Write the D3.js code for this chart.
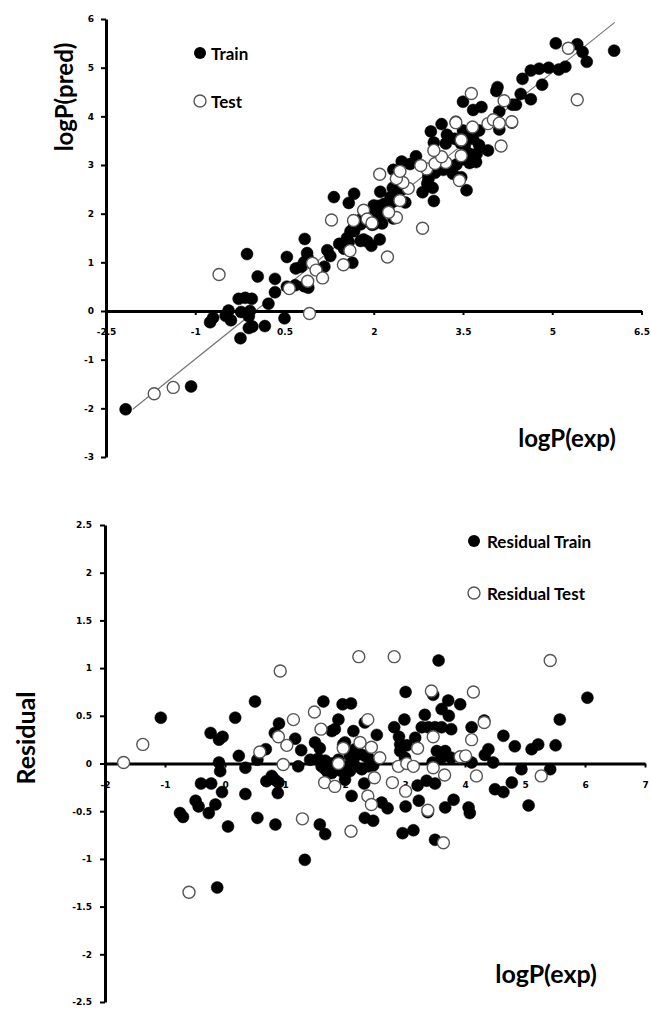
<!DOCTYPE html>
<html>
<head>
<meta charset="utf-8">
<script src="https://cdn.jsdelivr.net/npm/d3@7"></script>
<style>
  html, body { margin: 0; padding: 0; background: #fff; }
  svg { display: block; }
  text { font-family: Lato, "Open Sans", sans-serif; font-weight: 700; fill: #000; }
</style>
</head>
<body>
<svg id="chart" width="651" height="1011"></svg>
<script>
// ---- Data ----
// Experimental logP and residual (exp - pred) for the training set
const trainExp = [-2.17,-1.07,-0.75,-0.70,-0.49,-0.44,-0.40,-0.27,-0.24,-0.23,
  -0.16,-0.13,-0.10,-0.04,-0.10,-0.08,-0.05,0.05,0.17,0.23,
  0.34,0.34,0.50,0.54,0.54,0.68,0.69,0.78,0.83,0.89,
  0.88,0.84,0.83,0.90,1.17,1.22,1.27,1.33,1.42,1.50,
  1.58,1.58,1.64,1.67,1.83,1.89,1.96,2.10,1.78,1.97,
  2.00,1.55,1.67,1.78,1.89,1.67,1.78,1.94,2.03,2.00,
  2.08,2.11,2.17,2.28,2.39,2.47,2.08,2.17,2.33,2.14,
  2.33,2.53,2.32,2.11,2.61,2.71,2.33,2.47,2.82,2.90,
  2.92,2.92,3.03,3.17,2.99,3.01,3.00,3.01,3.23,3.21,
  3.36,3.50,3.38,2.96,3.14,3.50,3.47,3.56,3.72,3.92,
  3.61,3.33,3.73,3.28,3.39,3.50,3.61,3.77,3.53,3.67,
  3.61,3.77,3.46,3.67,3.81,4.06,4.08,4.11,4.11,4.32,
  4.39,4.33,4.47,4.50,4.64,4.64,4.78,4.83,4.94,5.06,
  5.11,5.22,5.42,5.51,5.58,6.04,2.25,2.14,2.39,1.61,1.72];
const trainRes = [-0.15,0.48,-0.52,-0.56,-0.39,-0.45,-0.21,-0.52,0.32,-0.21,
  -0.43,-1.30,0.25,0.28,0.01,-0.08,-0.30,-0.66,0.48,0.08,
  -0.045,-0.32,0.65,0.04,-0.57,0.15,-0.185,-0.13,-0.17,-0.20,
  -0.31,-0.64,0.32,0.42,0.26,-0.03,0.14,-1.01,0.04,0.22,
  0.16,-0.64,0.65,-0.74,0.36,0.46,0.62,0.63,0.34,0.20,
  0.22,0.05,0.03,0.00,0.04,-0.06,-0.10,-0.08,-0.03,-0.17,
  -0.08,-0.03,-0.03,-0.06,-0.03,-0.02,0.08,0.15,0.08,0.34,
  0.43,0.30,-0.21,-0.34,-0.41,-0.47,-0.57,-0.60,0.38,0.28,
  0.20,0.13,0.19,0.27,0.46,0.75,0.06,-0.45,-0.39,-0.23,
  -0.18,-0.21,-0.51,-0.73,-0.70,-0.80,0.72,1.08,0.66,0.62,
  0.57,0.51,0.50,0.38,0.38,0.38,0.38,0.36,0.13,0.13,
  0.06,0.06,0.01,-0.46,-0.38,-0.46,-0.52,0.38,0.01,0.45,
  0.15,0.09,0.01,-0.27,-0.30,0.29,-0.20,0.18,-0.06,-0.44,
  0.15,0.20,-0.06,0.19,0.46,0.69,0.10,0.04,0.06,-0.03,-0.10];
// Test set
const testExp = [-1.69,-1.37,-0.60,0.58,0.92,0.89,0.97,1.03,1.14,1.29,
  1.49,1.60,1.66,1.83,1.89,1.97,2.10,2.23,2.82,3.44,
  4.14,2.38,3.47,3.21,2.25,2.44,2.58,2.89,3.03,3.14,
  3.92,4.01,3.47,2.49,2.79,3.01,3.66,2.38,2.44,3.38,
  3.64,5.42,4.32,4.11,4.19,5.27];
const testRes = [0.01,0.20,-1.35,0.12,0.97,0.28,-0.01,0.19,0.46,-0.58,
  0.54,0.36,-0.20,-0.24,0.00,0.16,-0.71,1.12,1.12,0.76,
  0.75,0.46,0.28,0.16,0.22,0.17,0.06,-0.03,0.00,-0.03,
  0.07,0.08,-0.045,-0.15,-0.20,-0.29,-0.12,-0.34,-0.43,-0.49,
  -0.83,1.08,0.43,0.25,-0.13,-0.13];
// Fitted line end points (exp, pred)
const fitLineExp = [-2.05, 6.05];
const fitLinePred = [-2.02, 5.93];
// Tick values
const topXTicks = [-2.5, -1, 0.5, 2, 3.5, 5, 6.5];
const topYTicks = [-3, -2, -1, 0, 1, 2, 3, 4, 5, 6];
const botXTicks = [-2, -1, 0, 1, 2, 3, 4, 5, 6, 7];
const botYTicks = [-2.5, -2, -1.5, -1, -0.5, 0, 0.5, 1, 1.5, 2, 2.5];

// predicted = experimental - residual
const train = trainExp.map((e, i) => ({exp: e, res: trainRes[i], pred: +(e - trainRes[i]).toFixed(3)}));
const test = testExp.map((e, i) => ({exp: e, res: testRes[i], pred: +(e - testRes[i]).toFixed(3)}));

const svg = d3.select("#chart");
svg.append("rect").attr("width", 651).attr("height", 1011).attr("fill", "#fff");

const R = 6;
function styleAxis(g) {
  g.select(".domain").attr("stroke", "#000").attr("stroke-width", 3);
  g.selectAll(".tick line").attr("stroke", "#000").attr("stroke-width", 2);
  g.selectAll(".tick text")
    .attr("font-family", "'DejaVu Sans', Verdana, sans-serif")
    .style("font-family", "'DejaVu Sans', Verdana, sans-serif")
    .style("font-size", "9px").style("font-weight", 700).attr("fill", "#000");
}
function drawPoints(g, data, xs, ys, yKey, filled, clipMin) {
  g.selectAll(null).data(data.filter(d => d.exp >= clipMin)).enter().append("circle")
    .attr("cx", d => xs(d.exp)).attr("cy", d => ys(d[yKey])).attr("r", R)
    .attr("fill", filled ? "#000" : "#fff")
    .attr("stroke", filled ? "#000" : "#555")
    .attr("stroke-width", filled ? 0.5 : 1.4);
}

// ================= TOP CHART =================
{
  const x = d3.scaleLinear().domain([-2.5, 6.5]).range([106, 641.5]);
  const y = d3.scaleLinear().domain([-3, 6]).range([457, 19]);
  const g = svg.append("g");

  // fitted line
  g.append("line")
    .attr("x1", x(fitLineExp[0])).attr("y1", y(fitLinePred[0]))
    .attr("x2", x(fitLineExp[1])).attr("y2", y(fitLinePred[1]))
    .attr("stroke", "#777").attr("stroke-width", 1.2);

  const ya = g.append("g").attr("transform", `translate(${x(-2.5)},0)`)
    .call(d3.axisLeft(y).tickValues(topYTicks).tickSize(5).tickSizeOuter(0).tickPadding(7).tickFormat(d => String(d)));
  styleAxis(ya);
  const xa = g.append("g").attr("transform", `translate(0,${y(0)})`)
    .call(d3.axisBottom(x).tickValues(topXTicks).tickSize(4).tickSizeOuter(0).tickPadding(14).tickFormat(d => String(d)));
  styleAxis(xa);

  drawPoints(g, train, x, y, "pred", true, -Infinity);
  drawPoints(g, test, x, y, "pred", false, -Infinity);

  g.append("text").attr("transform", "translate(63,97) rotate(-90)")
    .attr("text-anchor", "middle").attr("dominant-baseline", "central")
    .style("font-size", "24px").text("logP(pred)");
  g.append("text").attr("x", 567).attr("y", 437)
    .attr("text-anchor", "middle").attr("dominant-baseline", "central")
    .style("font-size", "24px").text("logP(exp)");

  // legend
  g.append("circle").attr("cx", 200).attr("cy", 53).attr("r", R).attr("fill", "#000");
  g.append("circle").attr("cx", 200).attr("cy", 101).attr("r", R).attr("fill", "#fff").attr("stroke", "#555").attr("stroke-width", 1.4);
  g.append("text").attr("x", 211).attr("y", 53).attr("dominant-baseline", "central").style("font-size", "17px").text("Train");
  g.append("text").attr("x", 211).attr("y", 101).attr("dominant-baseline", "central").style("font-size", "17px").text("Test");
}

// ================= BOTTOM CHART =================
{
  const x = d3.scaleLinear().domain([-2, 7]).range([105, 645]);
  const y = d3.scaleLinear().domain([-2.5, 2.5]).range([1002, 525]);
  const g = svg.append("g");

  const ya = g.append("g").attr("transform", `translate(${x(-2)},0)`)
    .call(d3.axisLeft(y).tickValues(botYTicks).tickSize(5).tickSizeOuter(0).tickPadding(8).tickFormat(d => String(d)));
  styleAxis(ya);
  const xa = g.append("g").attr("transform", `translate(0,${y(0)})`)
    .call(d3.axisBottom(x).tickValues(botXTicks).tickSize(4).tickSizeOuter(0).tickPadding(14).tickFormat(d => String(d)));
  styleAxis(xa);

  drawPoints(g, train, x, y, "res", true, -2);
  drawPoints(g, test, x, y, "res", false, -2);

  g.append("text").attr("transform", "translate(25,738) rotate(-90)")
    .attr("text-anchor", "middle").attr("dominant-baseline", "central")
    .style("font-size", "25px").text("Residual");
  g.append("text").attr("x", 546).attr("y", 973)
    .attr("text-anchor", "middle").attr("dominant-baseline", "central")
    .style("font-size", "25px").text("logP(exp)");

  g.append("circle").attr("cx", 474).attr("cy", 541).attr("r", R).attr("fill", "#000");
  g.append("circle").attr("cx", 474).attr("cy", 593).attr("r", R).attr("fill", "#fff").attr("stroke", "#555").attr("stroke-width", 1.4);
  g.append("text").attr("x", 487).attr("y", 541).attr("dominant-baseline", "central").style("font-size", "17px").text("Residual Train");
  g.append("text").attr("x", 487).attr("y", 593).attr("dominant-baseline", "central").style("font-size", "17px").text("Residual Test");
}
</script>
</body>
</html>
